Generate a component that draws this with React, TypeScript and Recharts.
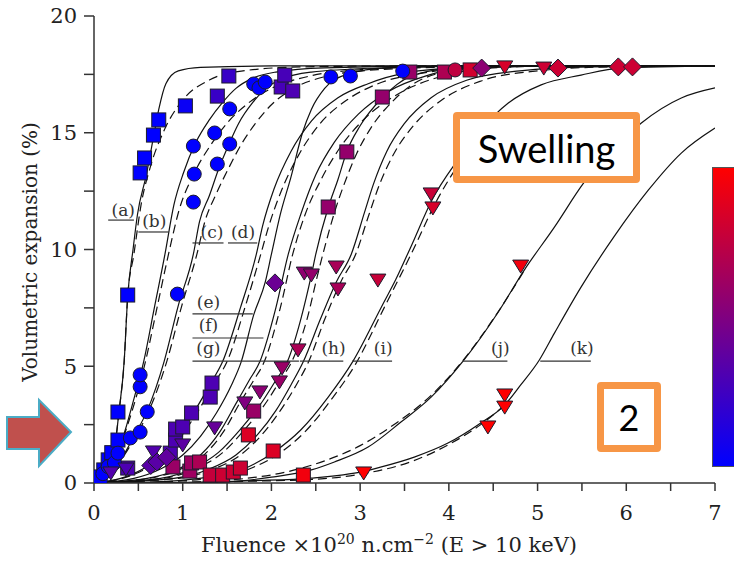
import React from 'react';
import {
  ComposedChart,
  Line,
  Scatter,
  XAxis,
  YAxis,
  Label,
  ReferenceLine,
  ReferenceDot,
} from 'recharts';

type Pt = [number, number];
type Mk = [number, number, number]; // x, y, colour-bar value (0 blue .. 1 red)

// fitted curves (solid + dashed)
const curveA: Pt[] = [[0,0],[0.06,0.15],[0.14,0.5],[0.2,1.1],[0.25,2.0],[0.28,3.0],[0.34,5.2],[0.38,8.0],[0.44,10.0],[0.49,11.5],[0.59,13.2],[0.67,14.8],[0.73,16.0],[0.81,17.1],[0.95,17.65],[1.2,17.8],[2.0,17.86],[7,17.86]];
const curveADash: Pt[] = [[0,0],[0.06,0.15],[0.14,0.5],[0.2,1.1],[0.25,2.0],[0.28,3.0],[0.34,5.2],[0.38,8.0],[0.45,9.8],[0.53,11.9],[0.64,13.6],[0.79,15.1],[1.0,16.4],[1.3,17.26],[1.66,17.64],[2.33,17.82],[3.5,17.86],[7,17.86]];
const curveB: Pt[] = [[0,0],[0.08,0.2],[0.18,0.6],[0.28,1.4],[0.37,2.5],[0.45,3.6],[0.56,5.2],[0.68,7.5],[0.8,9.8],[0.9,11.9],[1.01,13.3],[1.15,14.6],[1.3,15.55],[1.45,16.3],[1.6,16.9],[1.79,17.34],[2.05,17.6],[2.6,17.78],[4.0,17.86],[7,17.86]];
const curveBDash: Pt[] = [[0,0],[0.08,0.2],[0.18,0.6],[0.28,1.4],[0.38,2.5],[0.47,3.6],[0.58,5.2],[0.71,7.5],[0.84,9.8],[0.96,11.7],[1.12,13.2],[1.32,14.5],[1.52,15.5],[1.75,16.3],[2.0,16.9],[2.4,17.4],[3.0,17.7],[4.0,17.84],[7,17.86]];
const curveC: Pt[] = [[0,0],[0.1,0.2],[0.22,0.6],[0.35,1.3],[0.45,2.0],[0.6,3.1],[0.79,5.2],[0.95,7.6],[1.12,9.8],[1.19,11.2],[1.3,12.3],[1.41,13.5],[1.52,14.5],[1.63,15.4],[1.79,16.3],[1.94,16.9],[2.11,17.3],[2.45,17.6],[3.2,17.77],[4.6,17.86],[7,17.86]];
const curveCDash: Pt[] = [[0,0],[0.1,0.2],[0.22,0.6],[0.36,1.3],[0.47,2.0],[0.62,3.1],[0.82,5.2],[0.99,7.6],[1.16,9.8],[1.25,11.2],[1.38,12.4],[1.52,13.5],[1.66,14.5],[1.82,15.4],[2.0,16.2],[2.25,16.9],[2.6,17.4],[3.2,17.7],[4.5,17.84],[7,17.86]];
const curveD: Pt[] = [[0,0],[0.3,0.2],[0.55,0.6],[0.8,1.3],[0.98,2.2],[1.12,3.0],[1.32,4.3],[1.45,5.2],[1.65,7.5],[1.83,9.8],[1.9,11.0],[2.03,12.6],[2.22,14.2],[2.45,15.5],[2.75,16.5],[3.09,17.1],[3.5,17.55],[4.2,17.8],[5.5,17.86],[7,17.86]];
const curveDDash: Pt[] = [[0,0],[0.32,0.2],[0.58,0.6],[0.84,1.3],[1.02,2.2],[1.16,3.0],[1.36,4.3],[1.5,5.2],[1.7,7.5],[1.88,9.8],[1.97,11.0],[2.1,12.4],[2.3,14.0],[2.55,15.4],[2.85,16.4],[3.2,17.1],[3.7,17.55],[4.4,17.8],[5.5,17.86],[7,17.86]];
const curveE: Pt[] = [[0,0],[0.45,0.2],[0.75,0.6],[1.0,1.2],[1.2,2.0],[1.38,3.0],[1.55,4.2],[1.66,5.2],[1.8,7.2],[1.93,8.6],[2.0,9.8],[2.1,11.5],[2.22,13.1],[2.35,15.0],[2.45,16.0],[2.6,16.9],[2.85,17.5],[3.3,17.78],[4.5,17.86],[7,17.86]];
const curveF: Pt[] = [[0,0],[0.6,0.2],[0.95,0.6],[1.2,1.2],[1.42,2.2],[1.6,3.4],[1.75,4.4],[1.87,5.2],[2.05,7.5],[2.19,9.8],[2.33,11.5],[2.5,13.2],[2.71,14.6],[2.98,15.8],[3.31,16.75],[3.77,17.47],[4.14,17.77],[5.0,17.86],[7,17.86]];
const curveFDash: Pt[] = [[0,0],[0.62,0.2],[0.98,0.6],[1.24,1.2],[1.46,2.2],[1.64,3.4],[1.8,4.4],[1.92,5.2],[2.1,7.5],[2.24,9.8],[2.38,11.5],[2.56,13.0],[2.78,14.4],[3.05,15.6],[3.4,16.6],[3.9,17.4],[4.4,17.75],[5.2,17.86],[7,17.86]];
const curveG: Pt[] = [[0,0],[0.75,0.2],[1.1,0.6],[1.4,1.3],[1.65,2.3],[1.9,3.5],[2.05,4.4],[2.18,5.2],[2.33,7.0],[2.45,8.9],[2.5,9.8],[2.64,11.8],[2.75,13.0],[2.85,14.2],[3.0,15.3],[3.25,16.5],[3.56,17.4],[4.0,17.75],[5.0,17.86],[7,17.86]];
const curveGDash: Pt[] = [[0,0],[0.78,0.2],[1.14,0.6],[1.45,1.3],[1.7,2.3],[1.95,3.5],[2.1,4.4],[2.23,5.2],[2.4,7.0],[2.52,8.9],[2.58,9.8],[2.72,11.7],[2.84,13.0],[2.96,14.1],[3.12,15.2],[3.38,16.4],[3.7,17.3],[4.2,17.72],[5.2,17.86],[7,17.86]];
const curveH: Pt[] = [[0,0],[0.9,0.2],[1.3,0.6],[1.6,1.2],[1.85,2.1],[2.05,3.1],[2.22,4.2],[2.36,5.2],[2.55,7.0],[2.73,8.6],[2.9,9.8],[3.05,11.6],[3.15,12.8],[3.3,14.2],[3.5,15.4],[3.8,16.5],[4.2,17.25],[4.8,17.65],[5.6,17.82],[7,17.86]];
const curveHDash: Pt[] = [[0,0],[0.95,0.2],[1.35,0.6],[1.65,1.2],[1.9,2.1],[2.1,3.1],[2.28,4.2],[2.42,5.2],[2.6,7.0],[2.78,8.6],[2.95,9.8],[3.1,11.5],[3.22,12.8],[3.38,14.1],[3.6,15.3],[3.92,16.4],[4.35,17.2],[5.0,17.65],[5.8,17.82],[7,17.86]];
const curveI: Pt[] = [[0,0],[0.64,0.04],[1.21,0.21],[1.66,0.56],[2.03,1.33],[2.33,2.27],[2.64,3.68],[2.92,5.22],[3.24,7.54],[3.4,8.7],[3.57,10.1],[3.81,12.12],[4.1,13.83],[4.36,15.12],[4.67,16.27],[5.04,17.05],[5.49,17.47],[5.94,17.77],[7,17.86]];
const curveIDash: Pt[] = [[0,0],[0.7,0.04],[1.3,0.2],[1.75,0.6],[2.1,1.3],[2.38,2.2],[2.68,3.6],[2.95,5.1],[3.27,7.5],[3.6,10.0],[3.85,12.0],[4.1,13.6]];
const curveJ: Pt[] = [[0,0],[1.0,0.02],[1.5,0.05],[2.0,0.25],[2.45,0.56],[2.71,0.9],[3.09,1.54],[3.46,2.61],[3.8,3.68],[4.16,5.22],[4.55,7.28],[4.85,9.12],[5.19,10.96],[5.52,12.85],[6.17,15.42],[6.62,16.49],[7.0,16.92]];
const curveJDash: Pt[] = [[0,0],[1.0,0.03],[1.6,0.15],[2.2,0.5],[2.6,0.95],[3.0,1.6],[3.4,2.55],[3.8,3.75],[4.16,5.25],[4.55,7.3],[4.85,9.1]];
const curveK: Pt[] = [[0,0],[1.0,0.02],[1.8,0.1],[2.45,0.21],[3.04,0.5],[3.24,0.69],[3.61,1.11],[3.99,1.71],[4.36,2.57],[4.62,3.3],[4.81,4.2],[5.02,5.27],[5.19,6.42],[5.49,8.39],[5.86,10.54],[6.25,12.55],[6.62,14.13],[7.0,15.2]];
const curveKDash: Pt[] = [[0,0],[1.0,0.02],[1.8,0.08],[2.45,0.15],[3.04,0.4],[3.6,0.95],[4.0,1.65],[4.36,2.5],[4.62,3.3]];

const solidCurves = [curveA, curveB, curveC, curveD, curveE, curveF, curveG, curveH, curveI, curveJ, curveK];
const dashedCurves = [curveADash, curveBDash, curveCDash, curveDDash, curveFDash, curveGDash, curveHDash, curveIDash, curveJDash, curveKDash];

// measured points
const squarePts: Mk[] = [
  [0.07,0.26,0],[0.11,0.56,0],[0.16,0.99,0],[0.2,1.3,0],[0.27,1.84,0],[0.27,3.04,0],[0.38,8.05,0],[0.52,13.28,0],[0.57,13.92,0],[0.67,14.9,0],[0.73,15.55,0],[1.03,16.15,0.04],
  [1.39,16.57,0.22],[1.52,17.43,0.22],[2.11,16.96,0.28],[2.15,17.47,0.28],[2.24,16.79,0.3],
  [0.38,0.64,0.3],[0.86,1.28,0.3],[0.92,1.84,0.3],[0.92,2.31,0.3],[1.0,2.4,0.3],[1.1,3.0,0.3],[1.31,3.68,0.3],[1.33,4.28,0.3],
  [0.89,0.69,0.6],[1.08,0.51,0.62],[1.1,0.86,0.62],[1.19,0.9,0.67],[1.31,0.34,0.77],[1.45,0.34,0.8],[1.57,0.47,0.8],[1.65,0.64,0.8],[1.74,2.06,0.86],[1.8,3.08,0.6],[2.02,1.37,0.86],[2.36,0.34,0.95],
  [2.64,11.82,0.58],[2.85,14.18,0.58],[3.25,16.53,0.58],[3.56,17.6,0.6],[3.95,17.6,0.68],[4.24,17.69,0.82],
];
const circlePts: Mk[] = [
  [0.1,0.4,0],[0.16,0.7,0],[0.23,0.86,0],[0.27,1.28,0],[0.41,1.93,0],[0.52,2.18,0],[0.6,3.05,0],[0.52,4.12,0],[0.52,4.63,0],[0.94,8.09,0],
  [1.12,12.03,0],[1.13,13.23,0],[1.12,14.43,0],[1.36,14.99,0],[1.39,13.66,0],[1.53,14.52,0],[1.53,16.02,0],[1.8,17.09,0],[1.86,16.92,0],[1.93,17.17,0],
  [2.67,17.39,0],[2.89,17.43,0],[3.48,17.64,0],[4.07,17.69,0.75],
];
const trianglePts: Mk[] = [
  [0.19,0.43,0.32],[0.36,0.6,0.3],[0.67,1.33,0.32],[1.0,1.63,0.36],[1.36,2.36,0.4],[1.7,3.43,0.5],[1.87,3.9,0.55],[2.09,4.33,0.6],[2.12,4.93,0.6],[2.3,5.7,0.67],
  [2.37,8.99,0.56],[2.45,8.91,0.58],[2.73,9.25,0.66],[2.75,8.31,0.66],[3.2,8.69,0.78],[3.8,12.38,0.78],[3.82,11.78,0.84],[4.63,17.82,0.84],[5.07,17.77,0.8],
  [4.81,9.29,0.95],[4.63,3.77,1],[4.63,3.25,1],[4.44,2.4,1],[3.04,0.43,1],
];
const diamondPts: Mk[] = [
  [0.64,0.75,0.35],[0.71,0.9,0.35],[0.82,1.1,0.38],[2.04,8.57,0.42],[4.37,17.77,0.55],[5.23,17.77,0.8],[5.91,17.82,0.8],[6.07,17.82,0.8],
];

// curve tags (a)..(k): text anchor and leader line, in data units
const tagText = ['(a)', '(b)', '(c)', '(d)', '(e)', '(f)', '(g)', '(h)', '(i)', '(j)', '(k)'];
const tagAt: Pt[] = [[0.33,11.7],[0.68,11.22],[1.33,10.75],[1.68,10.75],[1.29,7.75],[1.29,6.77],[1.29,5.78],[2.7,5.78],[3.26,5.78],[4.58,5.78],[5.5,5.78]];
const tagLine: [number, number, number][] = [
  [0.16,0.45,11.26],[0.5,0.84,10.75],[1.11,1.46,10.28],[1.51,1.84,10.28],[1.11,1.79,7.24],[1.11,1.91,6.21],[1.11,2.31,5.22],[2.32,2.81,5.22],[2.91,3.36,5.22],[4.15,4.66,5.22],[5.03,5.6,5.22],
];

const xTicks = [0,0.5,1,1.5,2,2.5,3,3.5,4,4.5,5,5.5,6,6.5,7];
const yTicks = [0,2.5,5,7.5,10,12.5,15,17.5,20];

const serif = 'DejaVu Serif';
const toXY = (pts: Pt[]) => pts.map(([x, y]) => ({ x, y }));
const toMk = (pts: Mk[]) => pts.map(([x, y, t]) => ({ x, y, t }));
const colorOf = (t: number) => `rgb(${Math.round(255 * t)},0,${Math.round(255 * (1 - t))})`;
const edge = '#1c1c2c';

const SquareMark = (p: any) => (
  <rect x={p.cx - 7} y={p.cy - 7} width={14} height={14} fill={colorOf(p.payload.t)} stroke={edge} strokeWidth={1} />
);
const CircleMark = (p: any) => (
  <circle cx={p.cx} cy={p.cy} r={7} fill={colorOf(p.payload.t)} stroke={edge} strokeWidth={1} />
);
const TriangleMark = (p: any) => (
  <polygon
    points={`${p.cx - 8},${p.cy - 6} ${p.cx + 8},${p.cy - 6} ${p.cx},${p.cy + 7}`}
    fill={colorOf(p.payload.t)}
    stroke={edge}
    strokeWidth={1}
  />
);
const DiamondMark = (p: any) => (
  <polygon
    points={`${p.cx},${p.cy - 9} ${p.cx + 9},${p.cy} ${p.cx},${p.cy + 9} ${p.cx - 9},${p.cy}`}
    fill={colorOf(p.payload.t)}
    stroke={edge}
    strokeWidth={1}
  />
);

const xTitle = () => (
  <text x={389} y={552} textAnchor="middle" fontFamily={serif} fontSize={21} fill="#222">
    Fluence  ×10<tspan dy={-8} fontSize={14}>20</tspan>
    <tspan dy={8}> n.cm</tspan>
    <tspan dy={-8} fontSize={14}>−2</tspan>
    <tspan dy={8}> (E &gt; 10 keV)</tspan>
  </text>
);
const yTitle = () => (
  <text
    x={30}
    y={252}
    transform="rotate(-90, 30, 252)"
    textAnchor="middle"
    dominantBaseline="central"
    fontFamily={serif}
    fontSize={20}
    fill="#222"
  >
    Volumetric expansion (%)
  </text>
);

const tickStyle = { fill: '#222', fontSize: 21, fontFamily: serif };

export default function App() {
  return (
    <div style={{ position: 'absolute', left: 0, top: 0, width: 734, height: 561, overflow: 'hidden', background: '#fff' }}>
      <ComposedChart width={734} height={561} margin={{ top: 16, right: 19, bottom: 0, left: 0 }}>
        <XAxis
          type="number"
          dataKey="x"
          domain={[0, 7]}
          ticks={xTicks}
          tickFormatter={(v: number) => (Number.isInteger(v) ? String(v) : '')}
          allowDataOverflow
          height={78}
          tickSize={8}
          tickMargin={14}
          stroke="#333"
          strokeWidth={1.5}
          tick={tickStyle}
        >
          <Label content={xTitle} />
        </XAxis>
        <YAxis
          type="number"
          dataKey="y"
          domain={[0, 20]}
          ticks={yTicks}
          tickFormatter={(v: number) => (v % 5 === 0 ? String(v) : '')}
          allowDataOverflow
          width={94}
          tickSize={10}
          tickMargin={7}
          stroke="#333"
          strokeWidth={1.5}
          tick={tickStyle}
        >
          <Label content={yTitle} />
        </YAxis>

        {solidCurves.map((c, i) => (
          <Line key={'s' + i} data={toXY(c)} dataKey="y" type="monotone" stroke="#111" strokeWidth={1.2} dot={false} activeDot={false} isAnimationActive={false} />
        ))}
        {dashedCurves.map((c, i) => (
          <Line key={'d' + i} data={toXY(c)} dataKey="y" type="monotone" stroke="#111" strokeWidth={1.2} strokeDasharray="9 5" dot={false} activeDot={false} isAnimationActive={false} />
        ))}

        {tagLine.map(([x1, x2, y], i) => (
          <ReferenceLine key={'l' + i} segment={[{ x: x1, y }, { x: x2, y }]} stroke="#333" strokeWidth={1.2} ifOverflow="visible" />
        ))}
        {tagAt.map(([x, y], i) => (
          <ReferenceDot
            key={'t' + i}
            x={x}
            y={y}
            r={1}
            fill="none"
            stroke="none"
            ifOverflow="visible"
            label={{ value: tagText[i], position: 'center', fontSize: 17, fontFamily: serif, fill: '#333' }}
          />
        ))}

        <Scatter data={toMk(squarePts)} dataKey="y" shape={SquareMark} isAnimationActive={false} />
        <Scatter data={toMk(circlePts)} dataKey="y" shape={CircleMark} isAnimationActive={false} />
        <Scatter data={toMk(trianglePts)} dataKey="y" shape={TriangleMark} isAnimationActive={false} />
        <Scatter data={toMk(diamondPts)} dataKey="y" shape={DiamondMark} isAnimationActive={false} />
      </ComposedChart>

      {/* callouts laid over the figure */}
      <svg width={80} height={80} style={{ position: 'absolute', left: 0, top: 395 }}>
        <polygon points="7,22 39,22 39,5 71,37 39,71 39,54 7,54" fill="#C0504D" stroke="#4BACC6" strokeWidth={2} />
      </svg>
      <div
        style={{
          position: 'absolute', left: 453, top: 112, width: 187, height: 71, boxSizing: 'border-box',
          border: '7px solid #F79646', borderRadius: 4, background: '#fff',
          display: 'flex', alignItems: 'center', justifyContent: 'center',
          fontFamily: 'Lato', fontSize: 38, color: '#000',
        }}
      >
        Swelling
      </div>
      <div
        style={{
          position: 'absolute', left: 597, top: 382, width: 64, height: 70, boxSizing: 'border-box',
          border: '7px solid #F79646', borderRadius: 4, background: '#fff',
          display: 'flex', alignItems: 'center', justifyContent: 'center',
          fontFamily: 'Lato', fontSize: 36, color: '#000',
        }}
      >
        2
      </div>
      <div
        style={{
          position: 'absolute', left: 712, top: 167, width: 22, height: 300, boxSizing: 'border-box',
          borderTop: '1px solid #555', borderLeft: '1px solid #555', borderBottom: '1px solid #555',
          background: 'linear-gradient(to bottom, #ff0000, #800080, #0000ff)',
        }}
      />
    </div>
  );
}
